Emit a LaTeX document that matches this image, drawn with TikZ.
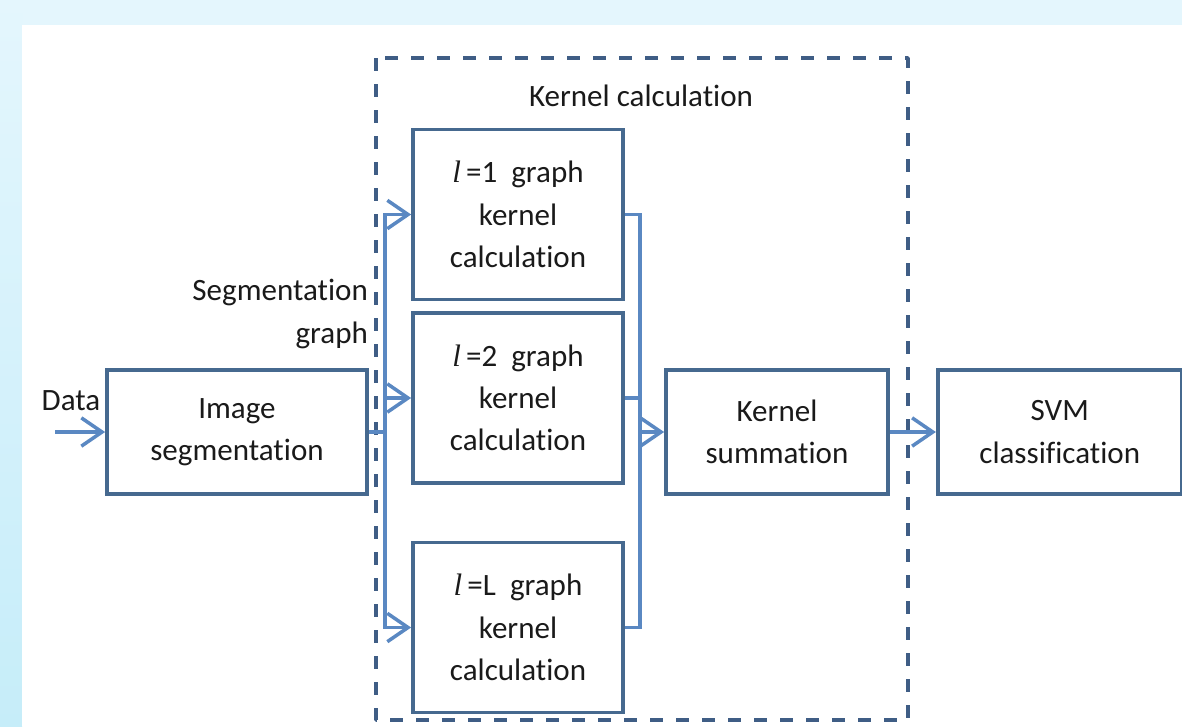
\documentclass[tikz,border=0pt]{standalone}
\usepackage{fontspec}
\setmainfont[RawFeature={-liga;-clig;-calt;-dlig}]{Carlito}
\newfontfamily\ellfont{Liberation Serif}
\usepackage{xcolor}
\usetikzlibrary{arrows.meta,positioning}
\definecolor{frame}{HTML}{46698F}
\definecolor{wire}{HTML}{5A88C2}
\definecolor{dashblue}{HTML}{3F5D85}
\definecolor{ink}{HTML}{1A1A1A}
\definecolor{skyA}{HTML}{E4F6FD}
\definecolor{skyB}{HTML}{C6EDF9}
\newcommand{\lvar}{{\ellfont\itshape l}}

\begin{document}
\begin{tikzpicture}[
  x=0.03cm,y=-0.03cm,
  font=\fontsize{26.5}{36}\selectfont,
  text=ink,
  node distance=1.38cm,
  blk/.style={draw=frame,line width=3.2pt,fill=white,minimum height=3.72cm,align=center,inner sep=0pt},
  lvl/.style={blk,minimum width=6.3cm,minimum height=5.1cm},
  wirel/.style={draw=wire,line width=3pt},
  arr/.style={wirel,-{Straight Barb[length=0.62cm,width=0.85cm]}},
  kframe/.style={draw=dashblue,line width=3.2pt,dash pattern=on 0.39cm off 0.39cm,line join=round}
]
\useasboundingbox (0,0) rectangle (1182,726);
% background panel
\fill[skyA] (0,0) rectangle (1182,726);
\shade[top color=skyA,bottom color=skyB] (0,0) rectangle (22,726);
\fill[white] (22,25) rectangle (1182,726);

% kernel calculation frame
\draw[kframe] (376,58) rectangle (908,720);
\node (kctitle) at (641,96) {Kernel calculation};

\node[blk,minimum width=7.8cm] (imgseg) at (237,432) {Image\\segmentation};
\node[lvl] (lone) at (518,214.5) {\lvar\,=1~ graph\\kernel\\calculation};
\node[lvl] (ltwo) at (518,398) {\lvar\,=2~ graph\\kernel\\calculation};
\node[lvl] (lbig) at (518,627.5) {\lvar\,=L~ graph\\kernel\\calculation};
\node[blk,minimum width=6.66cm] (ksum) at (777,432) {Kernel\\summation};
\node[blk,minimum width=7.32cm,right=of ksum] (svm) {SVM\\classification};

\node (datalbl) at (71,401) {Data};
\node[anchor=east,align=right] (seglbl) at (372,314) {Segmentation\\graph};

\coordinate (datain) at (55,432);
\coordinate (bus) at (385,432);
\coordinate (merge) at (640,432);

\draw[arr] (datain) -- (imgseg.west);
\draw[wirel] (imgseg.east) -- (bus);
\draw[arr] (bus) |- (lone.west);
\draw[arr] (bus) |- (ltwo.west);
\draw[arr] (bus) |- (lbig.west);
\draw[wirel] (lone.east) -| (merge);
\draw[wirel] (ltwo.east) -| (merge);
\draw[wirel] (lbig.east) -| (merge);
\draw[arr] (merge) -- (ksum.west);
\draw[arr] (ksum) -- (svm);
\end{tikzpicture}
\end{document}
